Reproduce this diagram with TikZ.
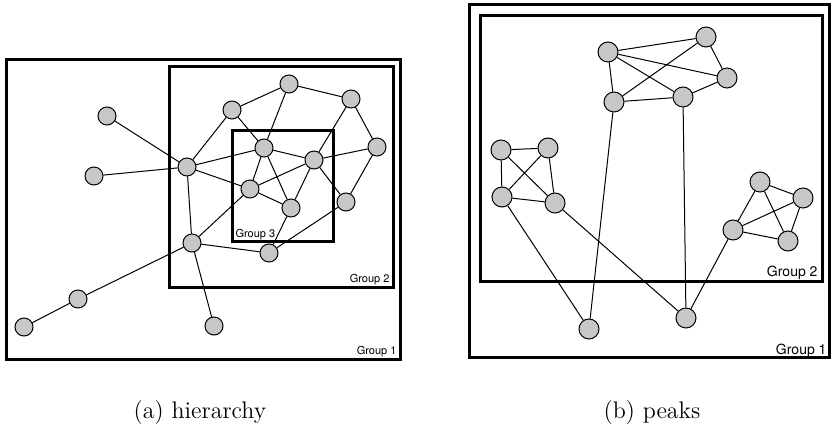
\documentclass[tikz,border=0pt]{standalone}
\usepackage{fontspec}
\newfontfamily\grpfont{TeX Gyre Heros}
\usetikzlibrary{positioning}
\tikzstyle{vertex} = [draw, circle, fill=black!22,
    inner sep=0pt, minimum size=9pt]
\tikzstyle{bigvertex} = [vertex, minimum size=10pt]
\tikzstyle{group} = [draw, line width=1.5pt]
\tikzstyle{grouplabel} = [inner sep=0pt,
    font=\grpfont\fontsize{5.5}{6}\selectfont]
\tikzstyle{biglabel} = [grouplabel,
    font=\grpfont\fontsize{7}{8}\selectfont]
\tikzstyle{caption} = [inner sep=0pt, anchor=base, font=\large]

\begin{document}
\begin{tikzpicture}[x=0.5pt, y=-0.5pt, line width=0.5pt]
        \useasboundingbox (0,0) rectangle (831,432);

        % (a) hierarchy
        \draw[group] (6.5,59.5) rectangle (400,360);
        \draw[group] (169,67) rectangle (393,288);
        \draw[group] (232,131) rectangle (333,242);
        \node[grouplabel, anchor=base east] (ga1) at (397,355) {Group 1};
        \node[grouplabel, anchor=base east] (ga2) at (390,283) {Group 2};
        \node[grouplabel, anchor=base west] (ga3) at (235,238) {Group 3};

        \node[vertex] (h1) at (107,116) {};
        \node[vertex] (h2) at (94,176) {};
        \node[vertex] (h3) at (187,167) {};
        \node[vertex] (h4) at (232,110) {};
        \node[vertex] (h5) at (289,84) {};
        \node[vertex] (h6) at (351,99) {};
        \node[vertex] (h7) at (377,147) {};
        \node[vertex] (h8) at (264,148) {};
        \node[vertex] (h9) at (314,160) {};
        \node[vertex] (h10) at (250,189) {};
        \node[vertex] (h11) at (291,208) {};
        \node[vertex] (h12) at (346,202) {};
        \node[vertex] (h13) at (192,243) {};
        \node[vertex] (h14) at (269,253) {};
        \node[vertex] (h15) at (78,299) {};
        \node[vertex] (h16) at (24,327) {};
        \node[vertex] (h17) at (214,326) {};

        \draw (h1) -- (h3) (h2) -- (h3) (h3) -- (h4) (h3) -- (h8)
              (h3) -- (h10) (h3) -- (h13);
        \draw (h4) -- (h5) (h4) -- (h8) (h5) -- (h8) (h5) -- (h6)
              (h6) -- (h9) (h6) -- (h7) (h7) -- (h9) (h7) -- (h12);
        \draw (h8) -- (h9) (h8) -- (h10) (h8) -- (h11) (h9) -- (h10)
              (h9) -- (h11) (h9) -- (h12) (h10) -- (h11) (h10) -- (h13);
        \draw (h11) -- (h14) (h12) -- (h14) (h13) -- (h14)
              (h13) -- (h15) (h13) -- (h17) (h15) -- (h16);

        \node[caption] (capa) at (200,419) {(a) hierarchy};

        % (b) peaks
        \draw[group] (469,5) rectangle (829,358);
        \draw[group] (480,16) rectangle (822,282);
        \node[biglabel, anchor=base east] (gb1) at (827,355) {Group 1};
        \node[biglabel, anchor=base east] (gb2) at (818,277) {Group 2};

        \node[bigvertex] (p1) at (608,52) {};
        \node[bigvertex] (p2) at (706,37) {};
        \node[bigvertex] (p3) at (727,78) {};
        \node[bigvertex] (p4) at (614,102) {};
        \node[bigvertex] (p5) at (683,97) {};
        \node[bigvertex] (p6) at (501,150) {};
        \node[bigvertex] (p7) at (548,148) {};
        \node[bigvertex] (p8) at (502,197) {};
        \node[bigvertex] (p9) at (555,203) {};
        \node[bigvertex] (p10) at (760,182) {};
        \node[bigvertex] (p11) at (803,198) {};
        \node[bigvertex] (p12) at (733,230) {};
        \node[bigvertex] (p13) at (788,241) {};
        \node[bigvertex] (p14) at (589,329) {};
        \node[bigvertex] (p15) at (686,318) {};

        \draw (p1) -- (p2) (p1) -- (p3) (p1) -- (p4) (p1) -- (p5)
              (p2) -- (p3) (p2) -- (p4) (p4) -- (p5) (p5) -- (p3);
        \draw (p6) -- (p7) (p6) -- (p8) (p6) -- (p9)
              (p7) -- (p8) (p7) -- (p9) (p8) -- (p9);
        \draw (p10) -- (p11) (p10) -- (p12) (p10) -- (p13)
              (p11) -- (p12) (p11) -- (p13) (p12) -- (p13);
        \draw (p8) -- (p14) (p4) -- (p14) (p9) -- (p15)
              (p5) -- (p15) (p12) -- (p15);

        \node[caption] (capb) at (652,419) {(b) peaks};
    \end{tikzpicture}
\end{document}
